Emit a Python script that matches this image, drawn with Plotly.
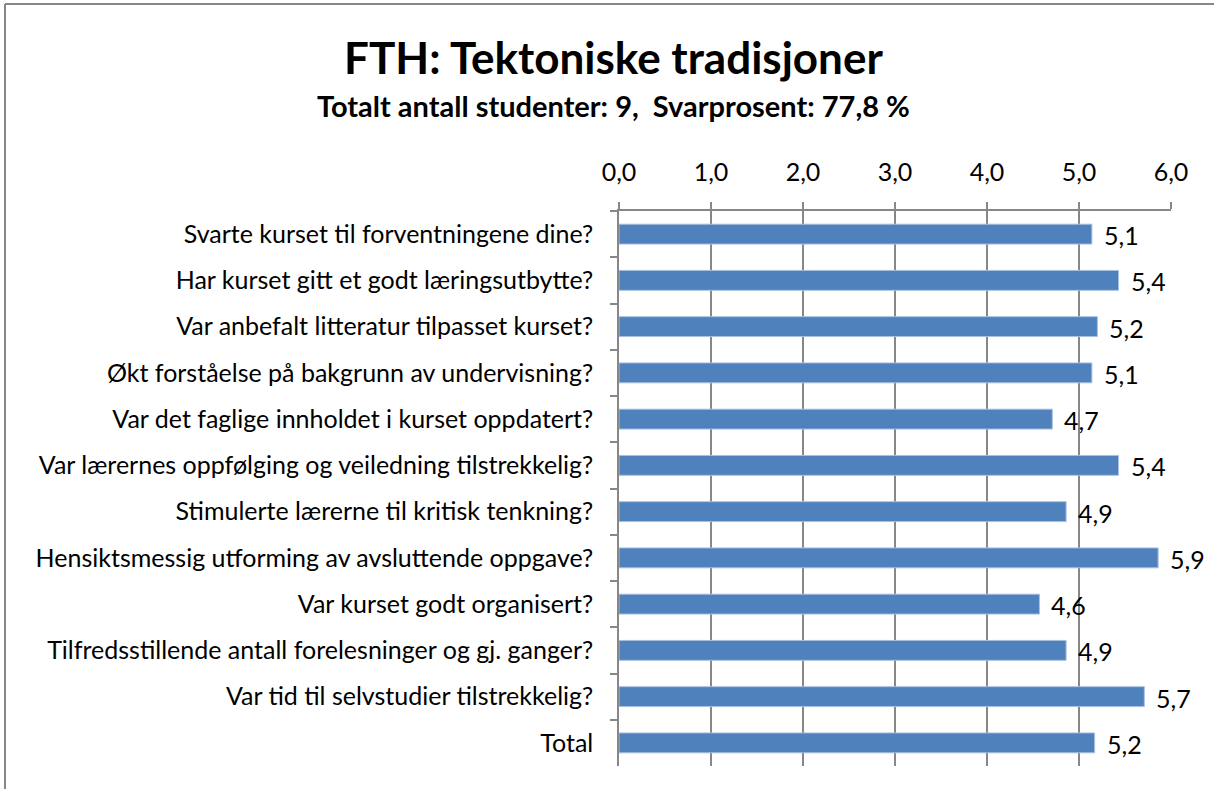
import plotly.graph_objects as go

categories = [
    "Svarte kurset til forventningene dine?",
    "Har kurset gitt et godt læringsutbytte?",
    "Var anbefalt litteratur tilpasset kurset?",
    "Økt forståelse på bakgrunn av undervisning?",
    "Var det faglige innholdet i kurset oppdatert?",
    "Var lærernes oppfølging og veiledning tilstrekkelig?",
    "Stimulerte lærerne til kritisk tenkning?",
    "Hensiktsmessig utforming av avsluttende oppgave?",
    "Var kurset godt organisert?",
    "Tilfredsstillende antall forelesninger og gj. ganger?",
    "Var tid til selvstudier tilstrekkelig?",
    "Total",
]
values = [5.14, 5.43, 5.2, 5.14, 4.71, 5.43, 4.86, 5.86, 4.57, 4.86, 5.71, 5.17]
x_ticks = [0, 1, 2, 3, 4, 5, 6]

title_text = "FTH: Tektoniske tradisjoner"
subtitle_text = "Totalt antall studenter: 9,  Svarprosent: 77,8 %"

FONT = "Lato, Carlito, Calibri, sans-serif"
GRID = "#878787"

# plot area in pixels
L, R, T, B = 619, 1171, 211, 766
W, H = 1214, 789
PW, PH = R - L, B - T


def px_x(p):
    return (p - L) / PW


def px_y(p):
    return (B - p) / PH


fig = go.Figure()
fig.add_trace(go.Bar(
    x=values, y=categories, orientation="h",
    marker=dict(color="#4F81BD", line=dict(color="#A9C0E0", width=1)),
    width=0.43,
    hoverinfo="x+y",
))

annotations = []
for c, v in zip(categories, values):
    annotations.append(dict(
        x=v, y=c, xref="x", yref="y", text=f"{v:.1f}".replace(".", ","),
        showarrow=False, xanchor="left", yanchor="middle", xshift=10, yshift=-1,
        font=dict(family=FONT, size=25, color="#000000"),
    ))

annotations.append(dict(
    x=px_x(613), y=px_y(57), xref="paper", yref="paper",
    text=f"<b>{title_text}</b>", showarrow=False,
    xanchor="center", yanchor="middle",
    font=dict(family=FONT, size=44, color="#000000"),
))
annotations.append(dict(
    x=px_x(613), y=px_y(106), xref="paper", yref="paper",
    text=f"<b>{subtitle_text}</b>", showarrow=False,
    xanchor="center", yanchor="middle",
    font=dict(family=FONT, size=29, color="#000000"),
))

fig.update_layout(
    width=W, height=H,
    margin=dict(l=L, r=W - R, t=T, b=H - B, autoexpand=False),
    paper_bgcolor="white", plot_bgcolor="white",
    separators=",.",
    font=dict(family=FONT, size=25, color="#000000"),
    showlegend=False,
    xaxis=dict(
        side="top", range=[0, 6], tickvals=x_ticks, tickformat=".1f",
        showgrid=True, gridcolor=GRID, gridwidth=1.5,
        showline=True, linecolor=GRID, linewidth=1.5,
        ticks="outside", ticklen=7, tickcolor=GRID, tickwidth=1.5,
        zeroline=False, ticklabelstandoff=11,
        tickfont=dict(family=FONT, size=25),
    ),
    yaxis=dict(
        autorange="reversed", categoryorder="array", categoryarray=categories,
        showline=True, linecolor=GRID, linewidth=1.5,
        ticks="outside", ticklen=7, tickcolor=GRID, tickwidth=1.5,
        tickson="boundaries", showgrid=False, ticklabelstandoff=19,
        tickfont=dict(family=FONT, size=25),
    ),
    annotations=annotations,
    shapes=[
        dict(type="line", xref="paper", yref="paper",
             x0=px_x(5), x1=px_x(W), y0=px_y(4), y1=px_y(4),
             line=dict(color="#878787", width=2)),
        dict(type="line", xref="paper", yref="paper",
             x0=px_x(5), x1=px_x(5), y0=px_y(4), y1=px_y(H),
             line=dict(color="#878787", width=2)),
    ],
)

fig.write_html("out.html", config={"displayModeBar": False},
               post_script="document.body.style.margin='0px';")
